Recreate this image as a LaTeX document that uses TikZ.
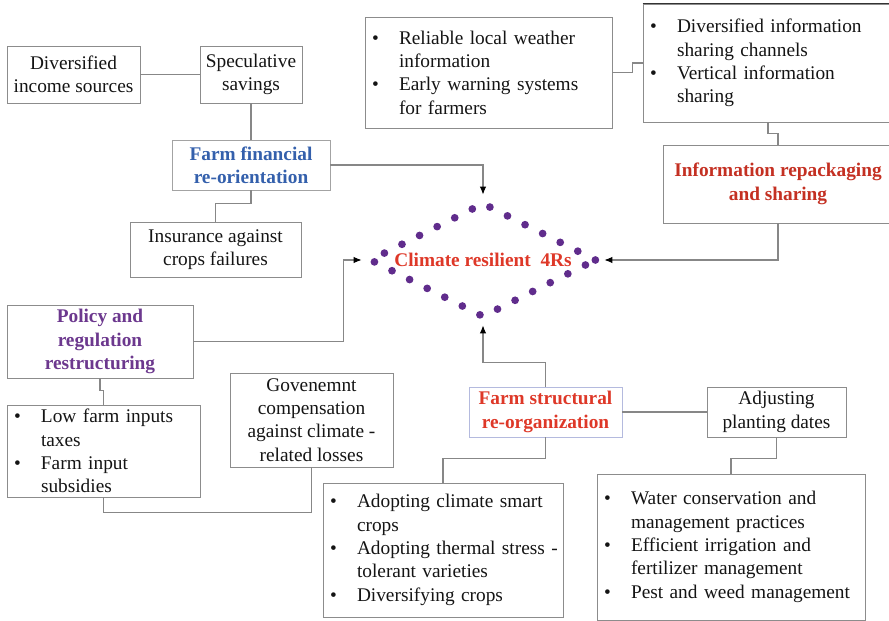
\documentclass[tikz,border=0pt]{standalone}
\usepackage{fontspec}
\setmainfont{Liberation Serif}
\usetikzlibrary{shapes.geometric,arrows.meta}

\definecolor{boxgray}{RGB}{140,140,140}
\definecolor{linegray}{RGB}{135,135,135}
\definecolor{finblue}{RGB}{52,96,172}
\definecolor{resred}{RGB}{222,56,40}
\definecolor{infored}{RGB}{196,48,34}
\definecolor{polpurple}{RGB}{108,56,142}
\definecolor{dotpurple}{RGB}{96,44,140}
\definecolor{paleblue}{RGB}{180,186,222}

\newcommand{\itm}{\makebox[0.54cm][l]{\textbullet}}
\newcommand{\cont}{\hspace*{0.54cm}}

\begin{document}
\begin{tikzpicture}[x=0.02cm,y=-0.02cm,
    box/.style={draw=boxgray,line width=0.5pt,inner sep=0pt,align=center,
      text=black!92,font=\fontsize{11}{13.3}\selectfont},
    sz/.style 2 args={minimum width=#1cm,minimum height=#2cm},
    blist/.style={box,align=left,inner xsep=0.14cm,text width=#1cm},
    head/.style={box,font=\fontsize{11}{13.3}\selectfont\bfseries},
    link/.style={draw=linegray,line width=0.6pt},
    toR/.style={link,-{Latex[length=4.5pt,width=3.6pt,color=black]},shorten >=2pt}]
  \useasboundingbox (0,0) rectangle (889,621);

  % centre
  \node[diamond,aspect=2,inner sep=0pt,sz={4.56}{2.32},draw=dotpurple,
        line width=4.4pt,line cap=round,dash pattern=on 0pt off 0.3935cm,
        text=resred,font=\fontsize{11}{13.3}\selectfont\bfseries]
        (fourR) at (483,260) {Climate resilient~ 4Rs};

  % farm financial re-orientation
  \node[box,sz={2.66}{1.14}] (incsrc) at (73.5,74.5) {Diversified\\income sources};
  \node[box,sz={2.04}{1.14}] (savings) at (251,74.5) {Speculative\\savings};
  \node[head,sz={3.16}{1.0},draw=boxgray!80,text=finblue] (financial) at (251,165)
    {Farm financial\\re-orientation};
  \node[box,sz={3.42}{1.10}] (insurance) at (215.5,249.5) {Insurance against\\crops failures};

  % information repackaging and sharing
  \node[blist={4.66},sz={4.94}{2.22}] (weather) at (488.5,72.5)
    {\itm Reliable local weather\\ \cont information\\ \itm Early warning systems\\ \cont for farmers};
  \node[blist={4.72},sz={5.00}{2.36}] (channels) at (768,63)
    {\itm Diversified information\\ \cont sharing channels\\ \itm Vertical information\\ \cont sharing};
  \draw[black!80,line width=0.8pt] (channels.north west) -- (channels.north east);
  \node[head,sz={4.60}{1.56},text=infored] (repack) at (778,184)
    {Information repackaging\\and sharing};

  % policy and regulation restructuring
  \node[head,sz={3.72}{1.46},text=polpurple] (policy) at (100,341.5)
    {Policy and\\regulation\\restructuring};
  \node[blist={3.58},sz={3.86}{1.84}] (taxes) at (103.5,451)
    {\itm Low farm inputs\\ \cont taxes\\ \itm Farm input\\ \cont subsidies};
  \node[box,sz={3.26}{1.88}] (compens) at (311.5,420)
    {Govenemnt\\compensation\\against climate -\\related losses};

  % farm structural re-organization
  \node[head,sz={3.06}{1.0},draw=paleblue,text=resred] (structural) at (545.5,412)
    {Farm structural\\re-organization};
  \node[box,sz={2.78}{1.0}] (dates) at (776.5,412) {Adjusting\\planting dates};
  \node[blist={4.52},sz={4.80}{2.68}] (crops) at (443,550)
    {\itm Adopting climate smart\\ \cont crops\\ \itm \mbox{Adopting thermal stress~-}\\ \cont tolerant varieties\\ \itm Diversifying crops};
  \node[blist={5.08},sz={5.36}{2.92}] (water) at (731,547)
    {\itm Water conservation and\\ \cont management practices\\ \itm Efficient irrigation and\\ \cont fertilizer management\\ \itm Pest and weed management};

  % links
  \foreach \a/\b in {incsrc/savings,savings/financial,structural/dates}
    \draw[link] (\a) -- (\b);
  \draw[link] (financial.south) -- ++(0,13) -| (insurance.north);
  \draw[link] (weather.east) -- ++(20,0) |- (channels.west);
  \draw[link] (channels.south) -- ++(0,11) -| (repack.north);
  \draw[link] (policy.south) -- ++(0,12) -| (taxes.north);
  \draw[link] (compens.south) -- ++(0,45) -| (taxes.south);
  \draw[link] (structural.south) -- ++(0,21) -| (crops.north);
  \draw[link] (dates.south) -- ++(0,21) -| (water.north);

  % arrows into the 4Rs
  \draw[toR] (financial.east) -| (fourR.north);
  \draw[toR] (repack.south) |- (fourR.east);
  \draw[toR] (policy.east) -- ++(150,0) |- (fourR.west);
  \draw[toR] (structural.north) -- ++(0,-24) -| (fourR.south);
\end{tikzpicture}
\end{document}
